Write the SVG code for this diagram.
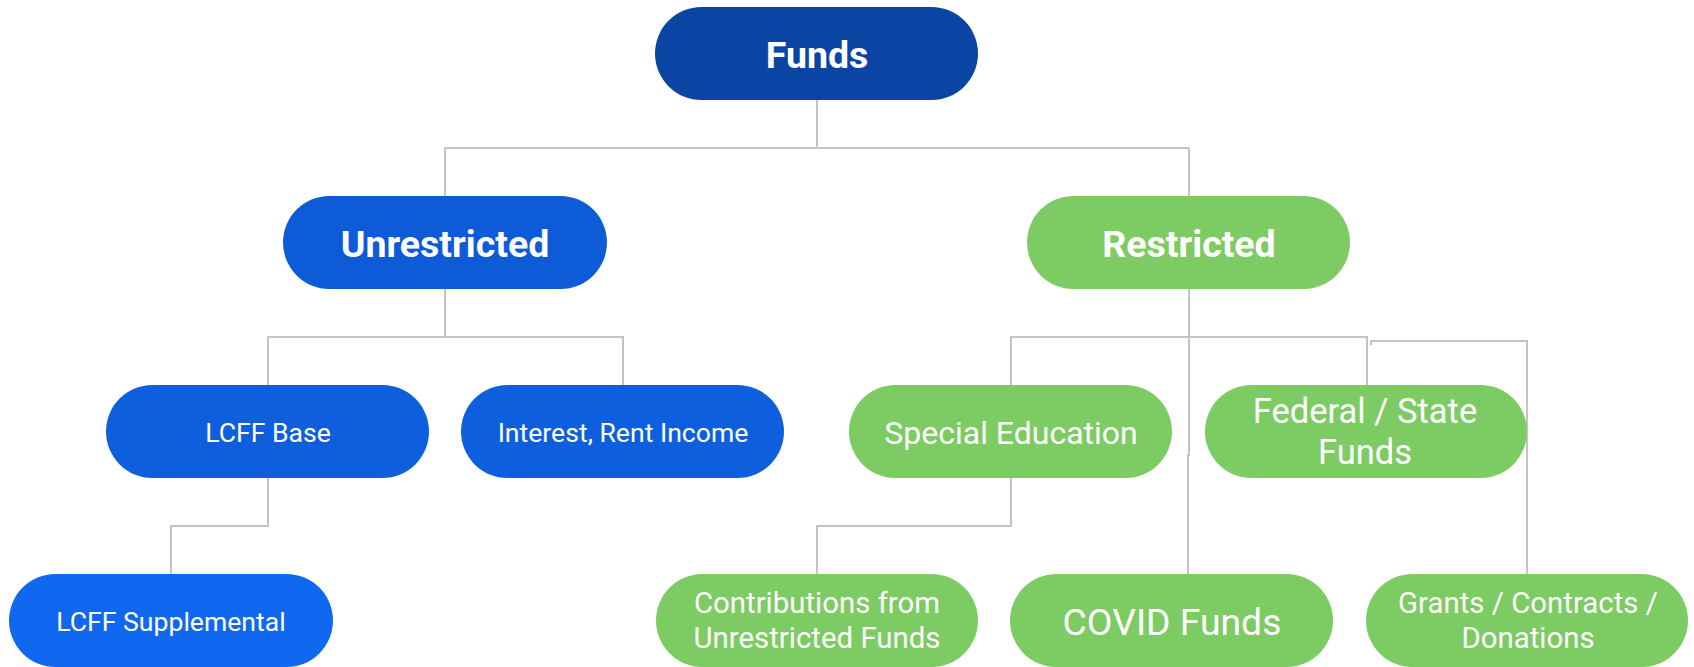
<svg xmlns="http://www.w3.org/2000/svg" width="1694" height="667" viewBox="0 0 1694 667">
  <style>
    .wire { fill: none; stroke: #C4C4C4; stroke-width: 2; }
    .pill { stroke: none; }
    .navy { fill: #0B45A3; }
    .blue { fill: #0D5BD6; }
    .blue2 { fill: #0E5FDD; }
    .blue3 { fill: #1168F0; }
    .green { fill: #7DCB63; }
    text { font-family: Roboto, "Liberation Sans", sans-serif; fill: #FFFFFF; text-anchor: middle; }
    .head { font-weight: 700; font-size: 37.5px; }
    .sm { font-size: 26.6px; }
    .md { font-size: 32px; }
    .fs { font-size: 34.5px; }
    .md2 { font-size: 29.4px; }
    .lg { font-size: 37.3px; }
  </style>

  <!-- connectors -->
  <g id="connectors">
    <path class="wire" d="M817 100 V148 M445 148 H1189 M445 148 V196 M1189 148 V196"/>
    <path class="wire" d="M445 289 V337 H268 V385 M445 337 H623 V385"/>
    <path class="wire" d="M1189 289 V337 H1011 V385 M1189 337 H1367 V385"/>
    <path class="wire" d="M1189 337 V455 H1188 V574"/>
    <path class="wire" d="M1371 345 V341 H1527 V574"/>
    <path class="wire" d="M268 478 V526 H171 V574"/>
    <path class="wire" d="M1011 478 V526 H817 V574"/>
  </g>

  <g id="node-funds">
    <rect class="pill navy" x="655" y="7" width="323" height="93" rx="46.5"/>
    <text class="head" x="817" y="68">Funds</text>
  </g>

  <g id="node-unrestricted">
    <rect class="pill blue" x="283" y="196" width="324" height="93" rx="46.5"/>
    <text class="head" x="445" y="257">Unrestricted</text>
  </g>

  <g id="node-restricted">
    <rect class="pill green" x="1027" y="196" width="323" height="93" rx="46.5"/>
    <text class="head" x="1189" y="257">Restricted</text>
  </g>

  <g id="node-lcff-base">
    <rect class="pill blue2" x="106" y="385" width="323" height="93" rx="46.5"/>
    <text class="sm" x="268" y="442">LCFF Base</text>
  </g>

  <g id="node-interest">
    <rect class="pill blue2" x="461" y="385" width="323" height="93" rx="46.5"/>
    <text class="sm" x="623" y="442">Interest, Rent Income</text>
  </g>

  <g id="node-special-ed">
    <rect class="pill green" x="849" y="385" width="323" height="93" rx="46.5"/>
    <text class="md" x="1011" y="444">Special Education</text>
  </g>

  <g id="node-federal-state">
    <rect class="pill green" x="1205" y="385" width="322" height="93" rx="46.5"/>
    <text class="fs" x="1365" y="423">Federal / State</text>
    <text class="fs" x="1365" y="464">Funds</text>
  </g>

  <g id="node-lcff-supplemental">
    <rect class="pill blue3" x="9" y="574" width="324" height="93" rx="46.5"/>
    <text class="sm" x="171" y="631">LCFF Supplemental</text>
  </g>

  <g id="node-contributions">
    <rect class="pill green" x="656" y="574" width="322" height="93" rx="46.5"/>
    <text class="md2" x="817" y="613">Contributions from</text>
    <text class="md2" x="817" y="648">Unrestricted Funds</text>
  </g>

  <g id="node-covid">
    <rect class="pill green" x="1010" y="574" width="323" height="93" rx="46.5"/>
    <text class="lg" x="1172" y="635">COVID Funds</text>
  </g>

  <g id="node-grants">
    <rect class="pill green" x="1366" y="574" width="322" height="93" rx="46.5"/>
    <text class="md2" x="1528" y="613">Grants / Contracts /</text>
    <text class="md2" x="1528" y="648">Donations</text>
  </g>
</svg>
